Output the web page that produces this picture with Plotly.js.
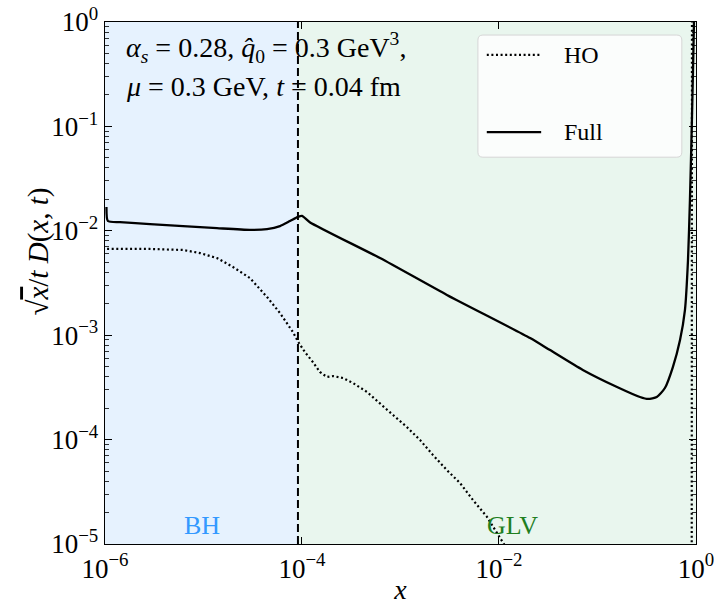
<!DOCTYPE html>
<html>
<head>
<meta charset="utf-8">
<script src="https://cdn.plot.ly/plotly-3.0.1.min.js"></script>
<style>html,body{margin:0;padding:0;background:#fff;}</style>
</head>
<body>
<div id="chart" style="width:714px;height:605px;"></div>
<script>
// ---- data ----
const fullX = [1.035e-6, 1.07e-6, 1.42e-6, 2.86e-6, 6.2e-6, 1.37e-5, 2.96e-5, 4.42e-5, 5.98e-5, 7.55e-5, 9.1e-5, 1.0e-4,
  1.2e-4, 6.2e-4, 2.96e-3, 2.07e-2, 3.3e-2, 7.1e-2, 0.158, 0.27, 0.326, 0.40, 0.484, 0.583, 0.689, 0.773, 0.83, 0.869, 0.91, 0.955, 0.97];
const fullY = [0.0169, 0.0124, 0.0121, 0.0116, 0.0111, 0.0106, 0.0102, 0.0104, 0.0111, 0.0124, 0.0136, 0.0139,
  0.0121, 5.48e-3, 2.43e-3, 9.4e-4, 7.2e-4, 4.65e-4, 3.19e-4, 2.56e-4, 2.45e-4, 2.56e-4, 3.12e-4, 4.95e-4, 9.0e-4, 1.74e-3, 5.2e-3, 0.0197, 0.115, 1.0, 3.0];

const hoX = [1.05e-6, 2.86e-6, 6.2e-6, 9.2e-6, 1.37e-5, 1.99e-5, 2.96e-5, 4.42e-5, 5.98e-5, 8.1e-5, 9.1e-5,
  1.07e-4, 1.29e-4, 1.52e-4, 1.79e-4, 2.07e-4, 2.61e-4, 3.30e-4, 4.57e-4, 6.2e-4, 8.4e-4, 1.16e-3, 1.58e-3,
  2.14e-3, 2.96e-3, 4.02e-3, 5.44e-3, 7.55e-3, 1.02e-2, 1.3e-2, 0.90, 0.905, 0.912];
const hoY = [6.7e-3, 6.7e-3, 6.55e-3, 6.12e-3, 5.48e-3, 4.5e-3, 3.53e-3, 2.32e-3, 1.63e-3, 1.07e-3, 8.7e-4,
  6.9e-4, 5.53e-4, 4.45e-4, 3.98e-4, 4.06e-4, 3.89e-4, 3.48e-4, 2.86e-4, 2.24e-4, 1.72e-4, 1.32e-4, 9.9e-5,
  7.1e-5, 5.1e-5, 3.84e-5, 2.64e-5, 1.82e-5, 1.17e-5, 8e-6, 1e-7, 1e-6, 3.0];

const seriesNames = ["HO", "Full"];
const regionNames = ["BH", "GLV"];
const xMin = 1e-6, xMax = 1;
const yMin = 1e-5, yMax = 1;
const bhBoundary = 9.1e-5;

const xTickVals = [1e-6, 1e-4, 1e-2, 1];
const xTickText = ["10<sup>−6</sup>", "10<sup>−4</sup>", "10<sup>−2</sup>", "10<sup>0</sup>"];
const yTickVals = [1e-5, 1e-4, 1e-3, 1e-2, 1e-1, 1];
const yTickText = ["10<sup>−5</sup>", "10<sup>−4</sup>", "10<sup>−3</sup>", "10<sup>−2</sup>", "10<sup>−1</sup>", "10<sup>0</sup>"];
const yMinorVals = [];
for (let k = -5; k < 0; k++) for (let m = 2; m <= 9; m++) yMinorVals.push(m * Math.pow(10, k));

const FONT = "Liberation Serif, DejaVu Serif, serif";

const traces = [
  {x: hoX, y: hoY, mode: "lines", name: seriesNames[0], showlegend: false,
   line: {color: "black", width: 2.2, dash: "2px,2.6px"}},
  {x: fullX, y: fullY, mode: "lines", name: seriesNames[1], showlegend: false,
   line: {color: "black", width: 2.3, shape: "spline", smoothing: 0.6}}
];

const axisCommon = {
  type: "log", showgrid: false, zeroline: false,
  showline: true, linecolor: "black", linewidth: 1.3, mirror: "allticks",
  ticks: "inside", ticklen: 7, tickwidth: 1, tickcolor: "black",
  ticklabeloverflow: "allow",
  tickfont: {family: FONT, size: 27, color: "black"}
};

// legend box geometry (paper fractions)
const lx0 = 0.631, lx1 = 0.976, ly0 = 0.741, ly1 = 0.975, rx = 0.0085, ry = 0.0096;
const legendPath = `M ${lx0+rx},${ly0} L ${lx1-rx},${ly0} Q ${lx1},${ly0} ${lx1},${ly0+ry} L ${lx1},${ly1-ry} Q ${lx1},${ly1} ${lx1-rx},${ly1} L ${lx0+rx},${ly1} Q ${lx0},${ly1} ${lx0},${ly1-ry} L ${lx0},${ly0+ry} Q ${lx0},${ly0} ${lx0+rx},${ly0} Z`;

const layout = {
  width: 714, height: 605,
  margin: {l: 105, r: 18, t: 22, b: 61},
  paper_bgcolor: "white", plot_bgcolor: "white",
  font: {family: FONT, color: "black"},
  showlegend: false,
  xaxis: Object.assign({}, axisCommon, {
    range: [Math.log10(xMin), Math.log10(xMax) + 0.0005],
    tickmode: "array", tickvals: xTickVals, ticktext: xTickText,
    title: {text: "<i>x</i>", font: {family: FONT, size: 28}, standoff: 8}
  }),
  yaxis: Object.assign({}, axisCommon, {
    range: [Math.log10(yMin), Math.log10(yMax)],
    tickmode: "array", tickvals: yTickVals, ticktext: yTickText,
    minor: {tickmode: "array", tickvals: yMinorVals, ticks: "inside", ticklen: 4, tickwidth: 0.8, tickcolor: "black"}
  }),
  shapes: [
    {type: "rect", layer: "below", xref: "x", yref: "paper", x0: xMin, x1: bhBoundary, y0: 0, y1: 1,
     fillcolor: "#e6f2fe", line: {width: 0}},
    {type: "rect", layer: "below", xref: "x", yref: "paper", x0: bhBoundary, x1: xMax, y0: 0, y1: 1,
     fillcolor: "#e9f6ee", line: {width: 0}},
    {type: "line", xref: "x", yref: "paper", x0: bhBoundary, x1: bhBoundary, y0: 0, y1: 1,
     line: {color: "black", width: 2, dash: "8px,4px"}},
    // legend box
    {type: "path", xref: "paper", yref: "paper", path: legendPath,
     fillcolor: "rgba(255,255,255,0.8)", line: {color: "#d6d6d6", width: 1}},
    {type: "line", xref: "paper", yref: "paper", x0: 0.646, x1: 0.738, y0: 0.937, y1: 0.937,
     line: {color: "black", width: 2.2, dash: "2px,2.6px"}},
    {type: "line", xref: "paper", yref: "paper", x0: 0.646, x1: 0.738, y0: 0.789, y1: 0.789,
     line: {color: "black", width: 2.3}}
  ],
  annotations: [
    {xref: "paper", yref: "paper", x: -0.112, y: 0.56, xanchor: "center", yanchor: "middle", showarrow: false, textangle: -90,
     text: "√<span style='text-decoration:overline'><i>x</i></span>/<i>t</i> <i>D</i>(<i>x</i>, <i>t</i>)", font: {family: FONT, size: 29, color: "black"}},
    {xref: "paper", yref: "paper", x: 0.773, y: 0.937, xanchor: "left", yanchor: "middle", showarrow: false,
     text: seriesNames[0], font: {family: FONT, size: 24, color: "black"}},
    {xref: "paper", yref: "paper", x: 0.773, y: 0.789, xanchor: "left", yanchor: "middle", showarrow: false,
     text: seriesNames[1], font: {family: FONT, size: 24, color: "black"}},
    {xref: "paper", yref: "paper", x: 0.032, y: 0.952, xanchor: "left", yanchor: "middle", showarrow: false,
     text: "<i>α<sub>s</sub></i> = 0.28, <i>q̂</i><sub>0</sub> = 0.3 GeV<sup>3</sup>,", font: {family: FONT, size: 28, color: "black"}},
    {xref: "paper", yref: "paper", x: 0.032, y: 0.877, xanchor: "left", yanchor: "middle", showarrow: false,
     text: "<i>μ</i> = 0.3 GeV, <i>t</i> = 0.04 fm", font: {family: FONT, size: 28, color: "black"}},
    {xref: "paper", yref: "paper", x: 0.164, y: 0.036, xanchor: "center", yanchor: "middle", showarrow: false,
     text: regionNames[0], font: {family: FONT, size: 26, color: "#3399ff"}},
    {xref: "paper", yref: "paper", x: 0.689, y: 0.036, xanchor: "center", yanchor: "middle", showarrow: false,
     text: regionNames[1], font: {family: FONT, size: 26, color: "#1f7f1f"}}
  ]
};

Plotly.newPlot("chart", traces, layout, {displayModeBar: false, staticPlot: true});
</script>
</body>
</html>
